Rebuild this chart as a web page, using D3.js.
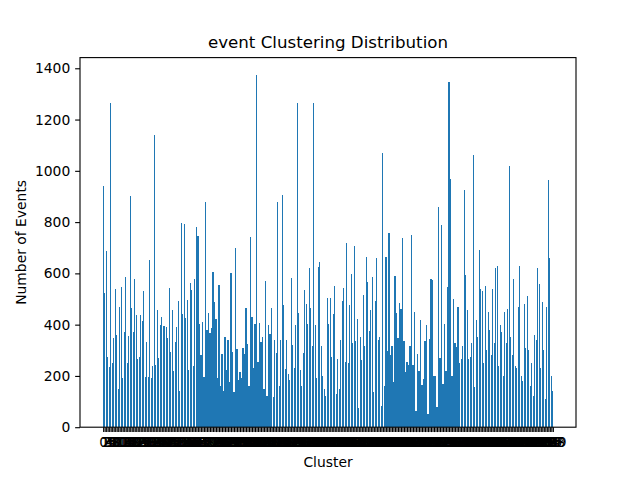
<!DOCTYPE html>
<html>
<head>
<meta charset="utf-8">
<script src="https://cdn.jsdelivr.net/npm/d3@7"></script>
<style>
  html, body { margin: 0; padding: 0; background: #fff; }
  svg { display: block; }
  text { font-family: "DejaVu Sans", sans-serif; fill: #000; }
</style>
</head>
<body>
<svg id="chart" width="640" height="480"></svg>
<script>
// Event counts per cluster
const counts = [
  940, 524, 687, 274, 235, 1263, 251, 349, 539, 359,
  149, 468, 546, 192, 371, 585, 251, 355, 901, 464,
  371, 578, 437, 266, 274, 437, 414, 531, 196, 332,
  196, 652, 192, 238, 1139, 242, 457, 270, 398, 429,
  394, 394, 390, 348, 542, 293, 457, 219, 332,
  390, 492, 141, 796, 441, 792, 426, 496, 223, 562,
  535, 238, 578, 780, 745, 402, 281, 410, 196, 878,
  379, 445, 367, 387, 605, 488, 422, 192, 554, 161,
  285, 141, 352, 223, 340, 176, 601, 293, 137, 698,
  305, 184, 215, 192, 309, 285, 464, 324, 161, 741,
  429, 231, 402, 1373, 254, 406, 332, 352, 149, 570,
  122, 398, 363, 464, 118, 340, 289, 878, 161, 340,
  905, 476, 227, 340, 207, 184, 581, 320, 231, 398,
  1263, 445, 223, 161, 289, 535, 480, 402, 620, 464,
  316, 1263, 398, 192, 624, 644, 316, 200, 149, 122,
  504, 402, 504, 274, 441, 550, 129, 266, 149, 340,
  492, 542, 254, 718, 250, 476, 597, 328, 706, 336,
  422, 75, 352, 262, 515, 316, 663, 566, 375, 457,
  585, 137, 492, 659, 340, 352, 83, 1069, 161, 663,
  297, 757, 281, 316, 176, 589, 445, 348, 484, 461,
  737, 336, 215, 254, 242, 316, 749, 242, 449, 63,
  285, 219, 418, 164, 188, 336, 398, 51, 344, 578,
  574, 200, 200, 79, 858, 270, 788, 168, 402, 219,
  546, 1345, 967, 200, 500, 328, 313, 468, 250, 266,
  316, 924, 593, 457, 266, 274, 328, 1061, 157,
  420, 350, 690, 540, 530, 250, 550, 300, 450, 380,
  280, 540, 330, 620, 630, 240, 400, 370, 200, 450,
  330, 460, 1020, 350, 280, 580, 240, 230, 470, 630,
  200, 180, 480, 310, 510, 300, 160, 250, 120, 360,
  340, 620, 560, 230, 490, 300, 110, 470, 965, 660,
  200, 140
];
// Cluster ids shown as x tick labels
const clusterIds = counts.map((_, i) => String(i));
const yTickValues = [0, 200, 400, 600, 800, 1000, 1200, 1400];

const titleText = "event Clustering Distribution";
const xLabelText = "Cluster";
const yLabelText = "Number of Events";

const plotL = 80, plotR = 576, plotT = 57.6, plotB = 427.2;
const pt = 100 / 72;

const svg = d3.select("#chart");

const n = counts.length;
const lo = -0.4, hi = n - 1 + 0.4;
const pad = 0.05 * (hi - lo);
const x = d3.scaleLinear().domain([lo - pad, hi + pad]).range([plotL, plotR]);
const y = d3.scaleLinear().domain([0, d3.max(counts) * 1.05]).range([plotB, plotT]);

// Bars (edges snapped to whole pixels, like the Agg renderer)
svg.append("g")
  .selectAll("rect")
  .data(counts)
  .join("rect")
  .attr("x", (d, i) => Math.round(x(i - 0.4)))
  .attr("width", (d, i) => Math.round(x(i + 0.4)) - Math.round(x(i - 0.4)))
  .attr("y", d => Math.round(y(d)))
  .attr("height", d => Math.round(y(0)) - Math.round(y(d)))
  .attr("fill", "#1f77b4")
  .attr("shape-rendering", "crispEdges");

// X axis
const xAxis = d3.axisBottom(x)
  .tickValues(d3.range(n))
  .tickFormat(i => clusterIds[i])
  .tickSize(3.5 * pt)
  .tickPadding(3.5 * pt)
  .tickSizeOuter(0);
const gx = svg.append("g").attr("transform", `translate(0,${plotB})`).call(xAxis);
gx.select(".domain").remove();
gx.selectAll(".tick line").attr("stroke", "#000").attr("stroke-width", 0.8 * pt);
gx.selectAll(".tick text")
  .attr("font-family", "DejaVu Sans")
  .attr("font-size", 10 * pt)
  .attr("fill", "#000");

// Y axis
const yAxis = d3.axisLeft(y)
  .tickValues(yTickValues)
  .tickFormat(d3.format("d"))
  .tickSize(3.5 * pt)
  .tickPadding(3.5 * pt)
  .tickSizeOuter(0);
const gy = svg.append("g").attr("transform", `translate(${plotL},0)`).call(yAxis);
gy.select(".domain").remove();
gy.selectAll(".tick line").attr("stroke", "#000").attr("stroke-width", 0.8 * pt);
gy.selectAll(".tick text")
  .attr("font-family", "DejaVu Sans")
  .attr("font-size", 10 * pt)
  .attr("fill", "#000");

// Frame
svg.append("rect")
  .attr("x", plotL).attr("y", plotT)
  .attr("width", plotR - plotL).attr("height", plotB - plotT)
  .attr("fill", "none")
  .attr("stroke", "#000")
  .attr("stroke-width", 0.8 * pt);

// Title
svg.append("text")
  .attr("x", (plotL + plotR) / 2)
  .attr("y", plotT - 6 * pt - 1)
  .attr("text-anchor", "middle")
  .attr("font-size", 12 * pt)
  .text(titleText);

// X label
svg.append("text")
  .attr("x", (plotL + plotR) / 2)
  .attr("y", 467)
  .attr("text-anchor", "middle")
  .attr("font-size", 10 * pt)
  .text(xLabelText);

// Y label
svg.append("text")
  .attr("transform", `translate(26,${(plotT + plotB) / 2}) rotate(-90)`)
  .attr("text-anchor", "middle")
  .attr("font-size", 10 * pt)
  .text(yLabelText);
</script>
</body>
</html>
